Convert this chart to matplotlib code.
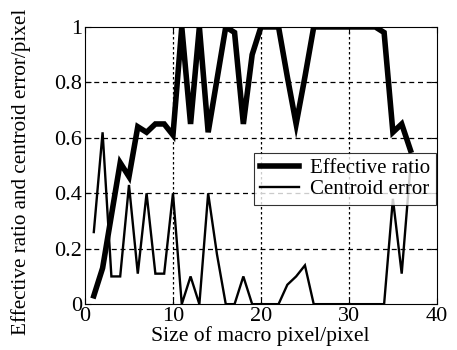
import matplotlib
matplotlib.use("Agg")
import matplotlib.pyplot as plt

plt.rcParams['font.family'] = ['Liberation Serif', 'DejaVu Serif']

x = list(range(1, 38))
effective_ratio = [0.03, 0.13, 0.32, 0.51, 0.46, 0.64, 0.62, 0.65, 0.65, 0.61,
                   1.0, 0.65, 1.0, 0.62, 0.81, 1.0, 0.98, 0.65, 0.9, 1.0,
                   1.0, 1.0, 0.82, 0.65, 0.82, 1.0, 1.0, 1.0, 1.0, 1.0,
                   1.0, 1.0, 1.0, 0.98, 0.62, 0.65, 0.555]
centroid_error = [0.26, 0.62, 0.1, 0.1, 0.43, 0.11, 0.40, 0.11, 0.11, 0.40,
                  0.0, 0.1, 0.0, 0.40, 0.18, 0.0, 0.0, 0.1, 0.0, 0.0,
                  0.0, 0.0, 0.07, 0.1, 0.14, 0.0, 0.0, 0.0, 0.0, 0.0,
                  0.0, 0.0, 0.0, 0.0, 0.38, 0.11, 0.5]
xticks = [0, 10, 20, 30, 40]
yticks = [0, 0.2, 0.4, 0.6, 0.8, 1]
yticklabels = ["0", "0.2", "0.4", "0.6", "0.8", "1"]

fig = plt.figure(figsize=(4.57, 3.5), dpi=100)
ax = fig.add_axes([0.186, 0.131, 0.770, 0.792])

ax.plot(x, effective_ratio, color='black', lw=4.0, solid_joinstyle='miter',
        label='Effective ratio')
ax.plot(x, centroid_error, color='black', lw=1.7, solid_joinstyle='miter',
        label='Centroid error')

ax.set_xlim(0, 40)
ax.set_ylim(0, 1)
ax.set_xticks(xticks)
ax.set_yticks(yticks)
ax.set_yticklabels(yticklabels)

for yv in yticks[1:-1]:
    ax.axhline(yv, color='black', lw=0.9, linestyle=(0, (4, 3)), zorder=0)
for xv in xticks[1:-1]:
    ax.axvline(xv, color='black', lw=0.9, linestyle=(0, (2, 2)), zorder=0)

ax.tick_params(direction='in', length=4, width=0.8, labelsize=16,
               top=True, right=True, pad=2)
for s in ax.spines.values():
    s.set_linewidth(0.8)

ax.set_xlabel('Size of macro pixel/pixel', fontsize=15.6)
ax.xaxis.set_label_coords(0.497, -0.08, transform=ax.transAxes)
ax.xaxis.label.set_va('top')
ax.set_ylabel('Effective ratio and centroid error/pixel', fontsize=15.2)
ax.yaxis.set_label_coords(-0.182, 0.476, transform=ax.transAxes)
ax.yaxis.label.set_va('center')

leg = ax.legend(loc='upper left', bbox_to_anchor=(0.48, 0.545), fontsize=15,
                frameon=True, fancybox=False, edgecolor='black',
                handlelength=1.9, handletextpad=0.5, borderpad=0.28,
                labelspacing=0.05, borderaxespad=0)
leg.get_frame().set_linewidth(0.8)

fig.savefig('out.png', dpi=100)
